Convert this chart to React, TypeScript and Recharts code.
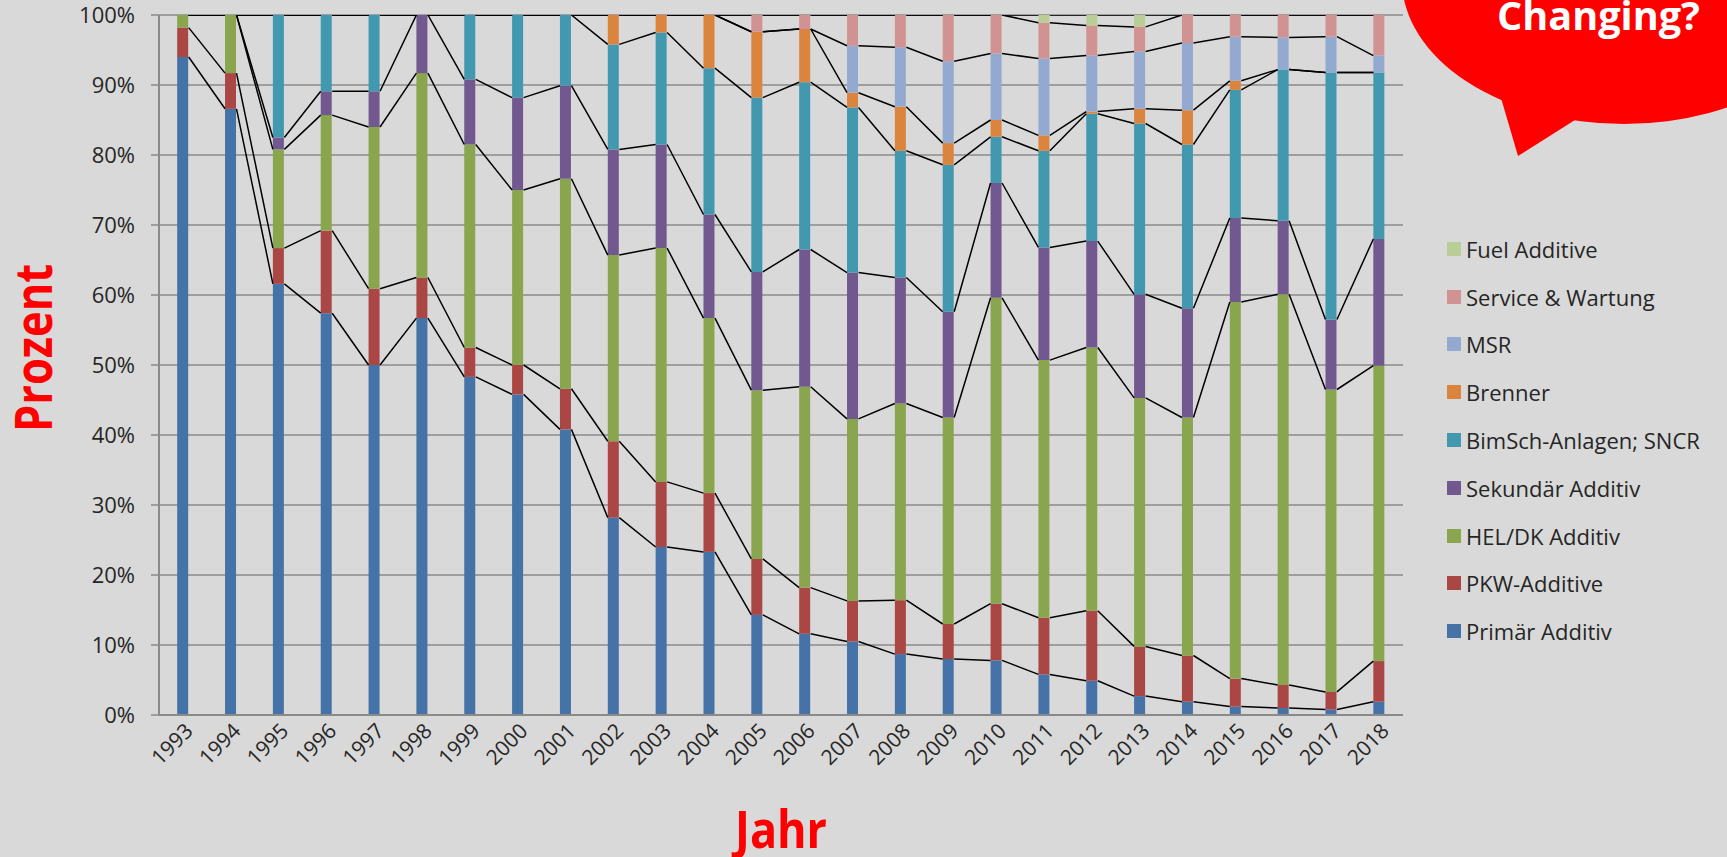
import React from 'react';
import { ComposedChart, Bar, Line, XAxis, YAxis, CartesianGrid, Legend } from 'recharts';

const years = ['1993','1994','1995','1996','1997','1998','1999','2000','2001','2002','2003','2004','2005','2006','2007','2008','2009','2010','2011','2012','2013','2014','2015','2016','2017','2018'];

const primaer = [94.0, 86.6, 61.6, 57.4, 50.0, 56.7, 48.3, 45.8, 40.8, 28.2, 24.0, 23.3, 14.3, 11.6, 10.5, 8.7, 8.0, 7.8, 5.8, 4.9, 2.7, 1.9, 1.2, 1.0, 0.8, 1.9];
const pkw = [4.2, 5.1, 5.1, 11.8, 10.9, 5.8, 4.2, 4.2, 5.8, 10.9, 9.3, 8.4, 8.0, 6.6, 5.8, 7.7, 5.0, 8.1, 8.1, 10.0, 7.1, 6.6, 4.0, 3.3, 2.5, 5.8];
const hel = [1.8, 8.3, 14.1, 16.5, 23.1, 29.2, 29.0, 25.0, 30.0, 26.6, 33.4, 25.0, 24.1, 28.7, 26.0, 28.1, 29.5, 43.7, 36.8, 37.6, 35.5, 34.0, 53.8, 55.8, 43.2, 42.2];
const sek = [0, 0, 1.7, 3.4, 5.1, 8.3, 9.3, 13.2, 13.3, 15.1, 14.8, 14.8, 16.9, 19.6, 20.9, 18.0, 15.1, 16.4, 16.1, 15.2, 14.8, 15.6, 12.0, 10.5, 10.0, 18.1];
const bim = [0, 0, 17.5, 10.9, 10.9, 0, 9.2, 11.8, 10.1, 15.0, 16.0, 20.9, 24.9, 23.9, 23.6, 18.1, 21.0, 6.6, 13.8, 18.2, 24.4, 23.4, 18.3, 21.6, 35.3, 23.8];
const brenner = [0, 0, 0, 0, 0, 0, 0, 0, 0, 4.2, 2.5, 7.6, 9.4, 7.6, 2.1, 6.3, 3.1, 2.4, 2.2, 0.3, 2.1, 4.9, 1.3, 0, 0, 0];
const msr = [0, 0, 0, 0, 0, 0, 0, 0, 0, 0, 0, 0, 0, 0, 6.7, 8.5, 11.7, 9.5, 11.0, 8.0, 8.2, 9.6, 6.3, 4.6, 5.1, 2.4];
const service = [0, 0, 0, 0, 0, 0, 0, 0, 0, 0, 0, 0, 2.4, 2.0, 4.4, 4.6, 6.6, 5.5, 5.1, 4.3, 3.5, 4.0, 3.1, 3.2, 3.1, 5.8];
const fuel = [0, 0, 0, 0, 0, 0, 0, 0, 0, 0, 0, 0, 0, 0, 0, 0, 0, 0, 1.1, 1.5, 1.7, 0, 0, 0, 0, 0];

const seriesKeys = ['primaer', 'pkw', 'hel', 'sek', 'bim', 'brenner', 'msr', 'service', 'fuel'];
const seriesNames = ['Primär Additiv', 'PKW-Additive', 'HEL/DK Additiv', 'Sekundär Additiv', 'BimSch-Anlagen; SNCR', 'Brenner', 'MSR', 'Service & Wartung', 'Fuel Additive'];
const seriesColors = ['#4572A7', '#AA4643', '#89A54E', '#71588F', '#4198AF', '#DB843D', '#93A9CF', '#D19392', '#B9CD96'];
const seriesValues = [primaer, pkw, hel, sek, bim, brenner, msr, service, fuel];

const yTickPercents = [0, 10, 20, 30, 40, 50, 60, 70, 80, 90, 100];

const xAxisTitle = 'Jahr';
const yAxisTitle = 'Prozent';
const calloutText = 'Changing?';

const BAR_FRAC = 0.24;

const chartData = years.map((year, i) => {
  const row: Record<string, any> = { year };
  seriesKeys.forEach((k, s) => { row[k] = seriesValues[s][i]; });
  return row;
});

const totals = years.map((_, i) => seriesValues.reduce((a, arr) => a + arr[i], 0));

const seriesLineData = seriesValues.map((_, s) => {
  const cum = years.map((__, i) => seriesValues.slice(0, s + 1).reduce((a, arr) => a + arr[i], 0) / totals[i]);
  const pts: { pos: number; top: number | null }[] = [];
  for (let i = 0; i < years.length - 1; i++) {
    pts.push({ pos: i + BAR_FRAC / 2, top: cum[i] });
    pts.push({ pos: i + 1 - BAR_FRAC / 2, top: cum[i + 1] });
    pts.push({ pos: i + 1, top: null });
  }
  return pts;
});

const FONT = "'Open Sans', 'Noto Sans', sans-serif";

const XTick = (props: any) => {
  const { x, y, payload } = props;
  return (
    <text
      transform={`translate(${x + 6},${y + 12}) rotate(-45)`}
      textAnchor="end"
      dy="0.35em"
      fontSize={21}
      fill="#262626"
      fontFamily={FONT}
    >
      {payload.value}
    </text>
  );
};

const YTitle = (props: any) => {
  const vb = props.viewBox || { x: 0, y: 15, width: 159, height: 700 };
  return (
    <text
      transform={`translate(${vb.x + 52},${vb.y + vb.height / 2 - 17}) rotate(-90)`}
      textAnchor="middle"
      fontSize={52}
      fontWeight={700}
      fill="#ff0000"
      fontFamily={FONT}
      textLength={168}
      lengthAdjust="spacingAndGlyphs"
    >
      {yAxisTitle}
    </text>
  );
};

const XTitle = (props: any) => {
  const vb = props.viewBox || { x: 159, y: 715, width: 1244, height: 142 };
  return (
    <text
      x={vb.x + vb.width / 2}
      y={vb.y + 133}
      textAnchor="middle"
      fontSize={52}
      fontWeight={700}
      fill="#ff0000"
      fontFamily={FONT}
      textLength={92}
      lengthAdjust="spacingAndGlyphs"
    >
      {xAxisTitle}
    </text>
  );
};

const renderLegend = () => {
  const order = seriesNames.map((_, i) => i).reverse();
  return (
    <div style={{ display: 'flex', flexDirection: 'column' }}>
      {order.map((s) => (
        <div key={seriesKeys[s]} style={{ height: 47.8, display: 'flex', alignItems: 'center' }}>
          <span style={{ width: 14, height: 14, background: seriesColors[s], marginRight: 5, flex: '0 0 auto' }} />
          <span style={{ fontSize: 22, lineHeight: '22px', color: '#262626', fontFamily: FONT, whiteSpace: 'nowrap' }}>
            {seriesNames[s]}
          </span>
        </div>
      ))}
    </div>
  );
};

export default function App() {
  return (
    <div style={{ position: 'absolute', left: 0, top: 0, width: 1727, height: 857, background: '#d9d9d9', overflow: 'hidden', fontFamily: FONT }}>
      <ComposedChart
        width={1727}
        height={857}
        data={chartData}
        stackOffset="expand"
        margin={{ top: 15, right: 324, bottom: 0, left: 0 }}
        barCategoryGap={`${Math.round(((1 - BAR_FRAC) / 2) * 100)}%`}
      >
        <CartesianGrid xAxisId="cat" vertical={false} stroke="#8a8a8a" strokeWidth={1.5} />
        <XAxis
          xAxisId="cat"
          dataKey="year"
          height={142}
          interval={0}
          tickSize={0}
          tickMargin={0}
          tickLine={false}
          axisLine={{ stroke: '#8a8a8a', strokeWidth: 2 }}
          tick={<XTick />}
          label={{ content: (p: any) => <XTitle {...p} /> }}
        />
        <XAxis xAxisId="num" type="number" dataKey="pos" domain={[-0.5, years.length - 0.5]} allowDataOverflow hide />
        <YAxis
          width={159}
          domain={[0, 1]}
          allowDataOverflow
          ticks={yTickPercents.map((p) => p / 100)}
          interval={0}
          tickFormatter={(v: number) => `${Math.round(v * 100)}%`}
          tickSize={8}
          tickMargin={16}
          tickLine={{ stroke: '#8a8a8a', strokeWidth: 1.5 }}
          axisLine={{ stroke: '#8a8a8a', strokeWidth: 2 }}
          tick={{ fontSize: 22, fill: '#262626', fontFamily: FONT }}
          label={{ content: (p: any) => <YTitle {...p} /> }}
        />
        {seriesKeys.map((k, s) => (
          <Bar key={k} xAxisId="cat" dataKey={k} name={seriesNames[s]} stackId="a" fill={seriesColors[s]} isAnimationActive={false} />
        ))}
        {seriesKeys.map((k, s) => (
          <Line
            key={'line-' + k}
            xAxisId="num"
            data={seriesLineData[s]}
            dataKey="top"
            type="linear"
            stroke="#000000"
            strokeWidth={1.5}
            dot={false}
            activeDot={false}
            connectNulls={false}
            legendType="none"
            isAnimationActive={false}
          />
        ))}
        <Legend
          layout="vertical"
          align="center"
          verticalAlign="middle"
          content={renderLegend}
          wrapperStyle={{ left: 1447, top: 225, width: 275, height: 432 }}
        />
      </ComposedChart>
      <svg width={1727} height={857} style={{ position: 'absolute', left: 0, top: 0, pointerEvents: 'none' }}>
        <ellipse cx={1624} cy={-20} rx={222} ry={144} fill="#ff0000" />
        <polygon points="1501,98 1518,156 1575,120 1560,80" fill="#ff0000" />
        <text x={1497} y={30} fill="#ffffff" fontWeight={700} fontSize={40} fontFamily={FONT} textLength={203} lengthAdjust="spacingAndGlyphs">
          {calloutText}
        </text>
      </svg>
    </div>
  );
}
